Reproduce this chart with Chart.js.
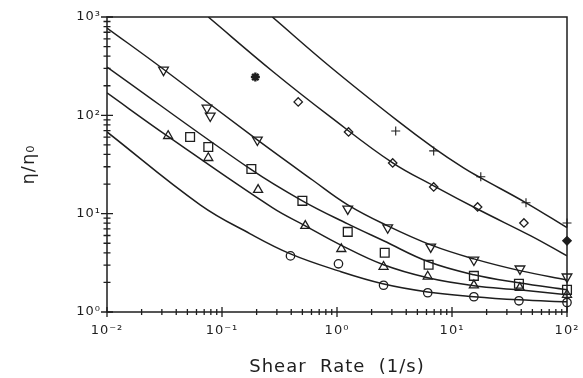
<!DOCTYPE html>
<html>
<head>
<meta charset="utf-8">
<title>Relative viscosity vs shear rate</title>
<script src="https://cdn.jsdelivr.net/npm/chart.js@4.4.1/dist/chart.umd.min.js"></script>
<style>
  html, body { margin: 0; padding: 0; background: #fff; }
  #wrap { width: 583px; height: 378px; }
</style>
</head>
<body>
<div id="wrap"><canvas id="viscChart"></canvas></div>
<script>
// fitted curves (shear rate in 1/s, relative viscosity)
const lineA_rate = [0.01, 0.0646, 0.176, 0.394, 1.03, 2.5, 6.15, 15.5, 38.2, 100];
const lineA_eta  = [67.8, 12.3, 6.24, 3.9, 2.62, 1.94, 1.60, 1.43, 1.33, 1.27];
const lineB_rate = [0.01, 0.0334, 0.274, 0.53, 1.07, 2.54, 6.15, 15.5, 38.2, 100];
const lineB_eta  = [169, 61.8, 11.5, 7.52, 4.82, 3.02, 2.23, 1.85, 1.68, 1.5];
const lineC_rate = [0.01, 0.176, 0.5, 1.24, 2.54, 6.26, 15.5, 38.2, 100];
const lineC_eta  = [310, 28.5, 13.5, 7.87, 5.3, 3.24, 2.39, 1.98, 1.68];
const lineD_rate = [0.01, 0.0308, 0.203, 0.612, 1.24, 2.76, 6.53, 15.5, 39.8, 100];
const lineD_eta  = [773, 296, 56.2, 22.0, 12.3, 7.52, 4.82, 3.47, 2.62, 2.12];
const lineE_rate = [0.076, 0.28, 0.877, 3.05, 6.93, 17.8, 48.5, 100];
const lineE_eta  = [1000, 276, 96.4, 32.8, 19.2, 10.7, 5.94, 3.72];
const lineF_rate = [0.274, 0.877, 3.37, 6.93, 12.6, 17.8, 44, 100];
const lineF_eta  = [1000, 310, 87.7, 46.7, 29.2, 23.1, 12.9, 7.2];

// measured points
const circle_rate = [0.394, 1.03, 2.54, 6.15, 15.5, 38.2, 100];
const circle_eta  = [3.72, 3.09, 1.87, 1.57, 1.43, 1.3, 1.25];
const triUp_rate  = [0.034, 0.076, 0.206, 0.53, 1.09, 2.54, 6.15, 15.5, 38.9, 100];
const triUp_eta   = [61.8, 36.9, 17.5, 7.52, 4.38, 2.89, 2.3, 1.87, 1.76, 1.5];
const square_rate = [0.0528, 0.076, 0.18, 0.5, 1.24, 2.6, 6.26, 15.5, 38.2, 100];
const square_eta  = [60.3, 47.7, 28.5, 13.5, 6.53, 4.0, 3.02, 2.33, 1.94, 1.68];
const triDn_rate  = [0.031, 0.074, 0.079, 0.203, 1.24, 2.76, 6.53, 15.5, 39, 100];
const triDn_eta   = [289, 119, 98.6, 56.2, 11.2, 7.2, 4.6, 3.39, 2.75, 2.28];
const diamond_rate = [0.195, 0.46, 1.26, 3.05, 6.93, 16.7, 42.2, 100];
const diamond_eta  = [245, 137, 67.8, 32.8, 18.7, 11.7, 8.05, 5.3];
const plus_rate = [3.24, 6.93, 17.8, 44, 100];
const plus_eta  = [69.3, 43.5, 23.7, 12.9, 8.05];

// axis decades and their labels
const rateTicks  = [0.01, 0.1, 1, 10, 100];
const rateLabels = ['10\u207B\u00B2', '10\u207B\u00B9', '10\u2070', '10\u00B9', '10\u00B2'];
const etaTicks   = [1, 10, 100, 1000];
const etaLabels  = ['10\u2070', '10\u00B9', '10\u00B2', '10\u00B3'];

const INK = '#1e1e1e';
const FONT = 'DejaVu Sans';

const pts = (xs, ys) => xs.map((x, i) => ({ x: x, y: ys[i] }));

// minor tick values 2..9 inside each decade
function minorTicks(decades) {
  const out = [];
  for (let i = 0; i < decades.length - 1; i++) {
    for (let m = 2; m <= 9; m++) out.push(decades[i] * m);
  }
  return out;
}

function curve(xs, ys) {
  return {
    data: pts(xs, ys),
    showLine: true,
    borderColor: INK,
    borderWidth: 1.5,
    pointRadius: 0,
    tension: 0.4,
    fill: false
  };
}

function marks(xs, ys, style, radius, extra) {
  return Object.assign({
    data: pts(xs, ys),
    showLine: false,
    pointStyle: style,
    pointRadius: radius,
    pointBorderWidth: 1.3,
    borderColor: INK,
    backgroundColor: 'rgba(255,255,255,0)',
    clip: false
  }, extra || {});
}

// wider letter spacing for all text on the canvas
const spacedText = {
  id: 'spacedText',
  beforeDraw(chart) { chart.ctx.letterSpacing = '1px'; },
  afterDraw(chart) { chart.ctx.letterSpacing = '0px'; }
};

// frame round the plot plus tick marks that cross the axis lines
const frameAndTicks = {
  id: 'frameAndTicks',
  afterDatasetsDraw(chart) {
    const { ctx, chartArea: a, scales: { x, y } } = chart;
    ctx.save();
    ctx.strokeStyle = INK;
    ctx.lineWidth = 1.5;
    ctx.strokeRect(a.left, a.top, a.right - a.left, a.bottom - a.top);

    ctx.lineWidth = 1.3;
    ctx.beginPath();
    rateTicks.forEach(v => {
      const px = x.getPixelForValue(v);
      ctx.moveTo(px, a.bottom - 5); ctx.lineTo(px, a.bottom + 5);
    });
    minorTicks(rateTicks).forEach(v => {
      const px = x.getPixelForValue(v);
      ctx.moveTo(px, a.bottom - 3); ctx.lineTo(px, a.bottom + 3);
    });
    etaTicks.forEach(v => {
      const py = y.getPixelForValue(v);
      ctx.moveTo(a.left - 6, py); ctx.lineTo(a.left + 6, py);
    });
    minorTicks(etaTicks).forEach(v => {
      const py = y.getPixelForValue(v);
      ctx.moveTo(a.left - 3.5, py); ctx.lineTo(a.left + 3.5, py);
    });
    ctx.stroke();
    ctx.restore();
  }
};

new Chart(document.getElementById('viscChart'), {
  type: 'scatter',
  data: {
    datasets: [
      curve(lineA_rate, lineA_eta),
      curve(lineB_rate, lineB_eta),
      curve(lineC_rate, lineC_eta),
      curve(lineD_rate, lineD_eta),
      curve(lineE_rate, lineE_eta),
      curve(lineF_rate, lineF_eta),
      marks(circle_rate, circle_eta, 'circle', 4.2),
      marks(triUp_rate, triUp_eta, 'triangle', 5.2),
      marks(square_rate, square_eta, 'rect', 6.2),
      marks(triDn_rate, triDn_eta, 'triangle', 5.6, { rotation: 180 }),
      marks(diamond_rate, diamond_eta,
        diamond_rate.map((v, i) => i === 0 ? 'star' : 'rectRot'),
        diamond_rate.map((v, i) => i === 0 ? 4.5 : 4.2),
        {
          pointBorderWidth: diamond_rate.map((v, i) => i === 0 ? 2.4 : 1.3),
          backgroundColor: diamond_rate.map((v, i) => i === diamond_rate.length - 1 ? INK : 'rgba(255,255,255,0)')
        }),
      marks(plus_rate, plus_eta, 'cross', 4.5, { pointBorderWidth: 1.1 })
    ]
  },
  options: {
    responsive: true,
    maintainAspectRatio: false,
    animation: false,
    events: [],
    layout: { padding: { top: 17, right: 16, left: 0, bottom: 0 } },
    plugins: { legend: { display: false }, tooltip: { enabled: false } },
    scales: {
      x: {
        type: 'logarithmic',
        position: 'bottom',
        min: 0.01,
        max: 100,
        afterFit(scale) {
          scale.height = 66;
          scale.paddingLeft = 0;
          scale.paddingRight = 0;
        },
        afterBuildTicks(scale) { scale.ticks = rateTicks.map(v => ({ value: v })); },
        grid: { display: false, drawTicks: false },
        border: { display: false },
        ticks: {
          autoSkip: false,
          maxRotation: 0,
          padding: 11,
          color: INK,
          font: { family: FONT, size: 13 },
          callback: (v) => rateLabels[rateTicks.indexOf(v)] || ''
        },
        title: {
          display: true,
          text: 'Shear  Rate  (1/s)',
          color: INK,
          font: { family: FONT, size: 18 },
          padding: { top: 0, bottom: 0 }
        }
      },
      y: {
        type: 'logarithmic',
        position: 'left',
        min: 1,
        max: 1000,
        afterFit(scale) {
          scale.width = 107;
          scale.paddingTop = 0;
          scale.paddingBottom = 0;
        },
        afterBuildTicks(scale) { scale.ticks = etaTicks.map(v => ({ value: v })); },
        grid: { display: false, drawTicks: false },
        border: { display: false },
        ticks: {
          autoSkip: false,
          padding: 6,
          color: INK,
          font: { family: FONT, size: 13 },
          callback: (v) => etaLabels[etaTicks.indexOf(v)] || ''
        },
        title: {
          display: true,
          text: '\u03B7/\u03B7\u2080',
          color: INK,
          font: { family: FONT, size: 18 },
          padding: { top: 19, bottom: 0 }
        }
      }
    }
  },
  plugins: [spacedText, frameAndTicks]
});
</script>
</body>
</html>
